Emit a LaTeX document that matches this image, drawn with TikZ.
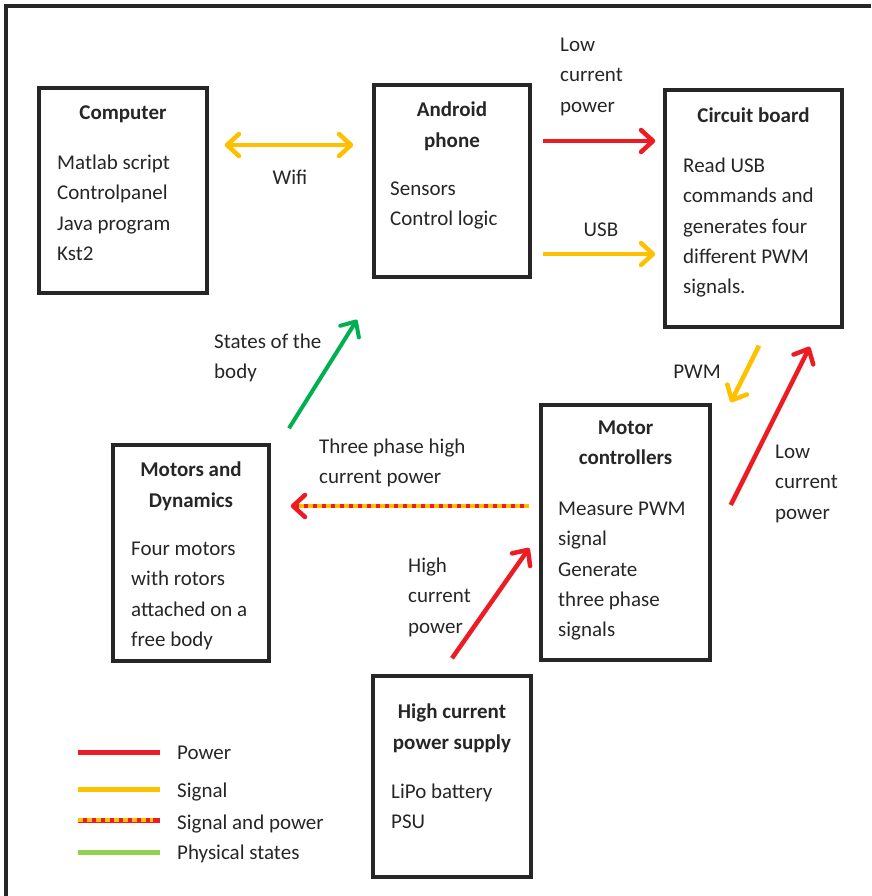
\documentclass[tikz,border=0pt]{standalone}
\usepackage{fontspec}
\setmainfont{Carlito}
\usepackage{xcolor}
\usepackage{tikz}
\usetikzlibrary{arrows.meta,calc}
\definecolor{pwrred}{RGB}{237,28,36}
\definecolor{sigyellow}{RGB}{255,192,0}
\definecolor{stategreen}{RGB}{0,176,80}
\definecolor{legendgreen}{RGB}{146,208,80}
\definecolor{ink}{RGB}{38,38,38}

\begin{document}
\begin{tikzpicture}[
    x=1pt, y=-1pt,
    font=\fontsize{21}{30.3}\selectfont,
    >={Straight Barb[length=12pt, width=22pt, round]},
    unit/.style={draw=ink, line width=3.5pt, rectangle, inner sep=0pt},
    txt/.style={inner sep=0pt, text=ink, yshift=21.2pt, execute at begin node=\strut},
    multi/.style={yshift=-7pt},
    title/.style={txt, anchor=north, align=center, font=\fontsize{21}{30.3}\selectfont\bfseries},
    body/.style={txt, multi, anchor=north west, align=left},
    label/.style={txt, anchor=north west, align=left},
    tag/.style={txt, anchor=north, align=center},
    pwr/.style={draw=pwrred, line width=4.5pt},
    sig/.style={draw=sigyellow, line width=4.5pt},
    phys/.style={draw=stategreen, line width=4pt},
    mix/.style={draw=pwrred, line width=4.5pt,
        postaction={draw=sigyellow, line width=4.5pt, dash pattern=on 5pt off 4pt, shorten >=7pt, -}}
]
    \useasboundingbox (0,0) rectangle (871,896);
    \draw[ink, line width=3.5pt] (6,896) -- (6,6) -- (871,6);

    % Computer
    \node[unit, minimum width=168pt, minimum height=205pt] (computer) at (123,190.5) {};
    \node[title] (computer-title) at (123,119) {Computer};
    \node[body] (computer-body) at (57,169) {Matlab script\\Controlpanel\\Java program\\Kst2};

    % Android phone
    \node[unit, minimum width=156pt, minimum height=192pt] (android) at (452,181) {};
    \node[title, multi] (android-title) at (452,116) {Android\\phone};
    \node[body] (android-body) at (390,196) {Sensors\\Control logic};

    % Circuit board
    \node[unit, minimum width=177pt, minimum height=237pt] (circuit) at (753.5,208.5) {};
    \node[title] (circuit-title) at (753.5,122) {Circuit board};
    \node[body] (circuit-body) at (683,172) {Read USB\\commands and\\generates four\\different PWM\\signals.};

    % Motors and Dynamics
    \node[unit, minimum width=156pt, minimum height=216pt] (motors) at (191,553) {};
    \node[title, multi] (motors-title) at (191,476) {Motors and\\Dynamics};
    \node[body] (motors-body) at (131,556) {Four motors\\with rotors\\attached on a\\free body};

    % Motor controllers
    \node[unit, minimum width=169pt, minimum height=255pt] (ctrl) at (625.5,532.5) {};
    \node[title, multi] (ctrl-title) at (625.5,435) {Motor\\controllers};
    \node[body] (ctrl-body) at (558,516) {Measure PWM\\signal\\Generate\\three phase\\signals};

    % High current power supply
    \node[unit, minimum width=158pt, minimum height=201pt] (supply) at (452,776.5) {};
    \node[title, multi] (supply-title) at (452,718) {High current\\power supply};
    \node[body] (supply-body) at (391,798) {LiPo battery\\PSU};

    % Connections
    \draw[sig, <->] ($(computer.east)+(16,-45.5)$) -- ($(android.west)+(-19,-36)$);
    \draw[pwr, ->] ($(android.east)+(11,-40)$) -- ($(circuit.west)+(-8,-67.5)$);
    \draw[sig, ->] ($(android.east)+(11,73)$) -- ($(circuit.west)+(-8,45.5)$);
    \draw[phys, ->] ($(motors.north)+(98,-15)$) -- ($(android.south)+(-95,41)$);
    \draw[sig, ->] ($(circuit.south)+(5.5,17)$) -- ($(ctrl.north east)+(19,-1)$);
    \draw[pwr, ->] ($(ctrl.east)+(19,-27.5)$) -- ($(circuit.south east)+(-34,18)$);
    \draw[mix, ->] ($(ctrl.west)+(-10,-26.5)$) -- ($(motors.east)+(20,-47)$);
    \draw[pwr, ->] ($(supply.north)+(0,-16)$) -- ($(ctrl.west)+(-10,15.5)$);

    % Labels
    \node[label, multi] (lbl-low1) at (560,52) {Low\\current\\power};
    \node[tag] (lbl-wifi) at (290,184) {Wifi};
    \node[tag] (lbl-usb) at (601,236) {USB};
    \node[label, multi] (lbl-states) at (214,348) {States of the\\body};
    \node[tag] (lbl-pwm) at (697,378) {PWM};
    \node[label, multi] (lbl-low2) at (775,459) {Low\\current\\power};
    \node[label, multi] (lbl-three) at (319,453) {Three phase high\\current power};
    \node[label, multi] (lbl-high) at (408,572) {High\\current\\power};

    % Legend
    \draw[pwr, line width=5pt] (78,752) -- (160,752);
    \draw[sig, line width=5pt] (78,789) -- (160,789);
    \draw[mix, line width=5pt, postaction={dash pattern=on 6pt off 6pt, shorten >=0pt}] (78,820) -- (160,820);
    \draw[draw=legendgreen, line width=5pt] (78,852) -- (160,852);
    \node[label] (leg-power) at (177,759) {Power};
    \node[label] (leg-signal) at (177,797) {Signal};
    \node[label] (leg-mix) at (177,829) {Signal and power};
    \node[label] (leg-states) at (177,859) {Physical states};
\end{tikzpicture}
\end{document}
